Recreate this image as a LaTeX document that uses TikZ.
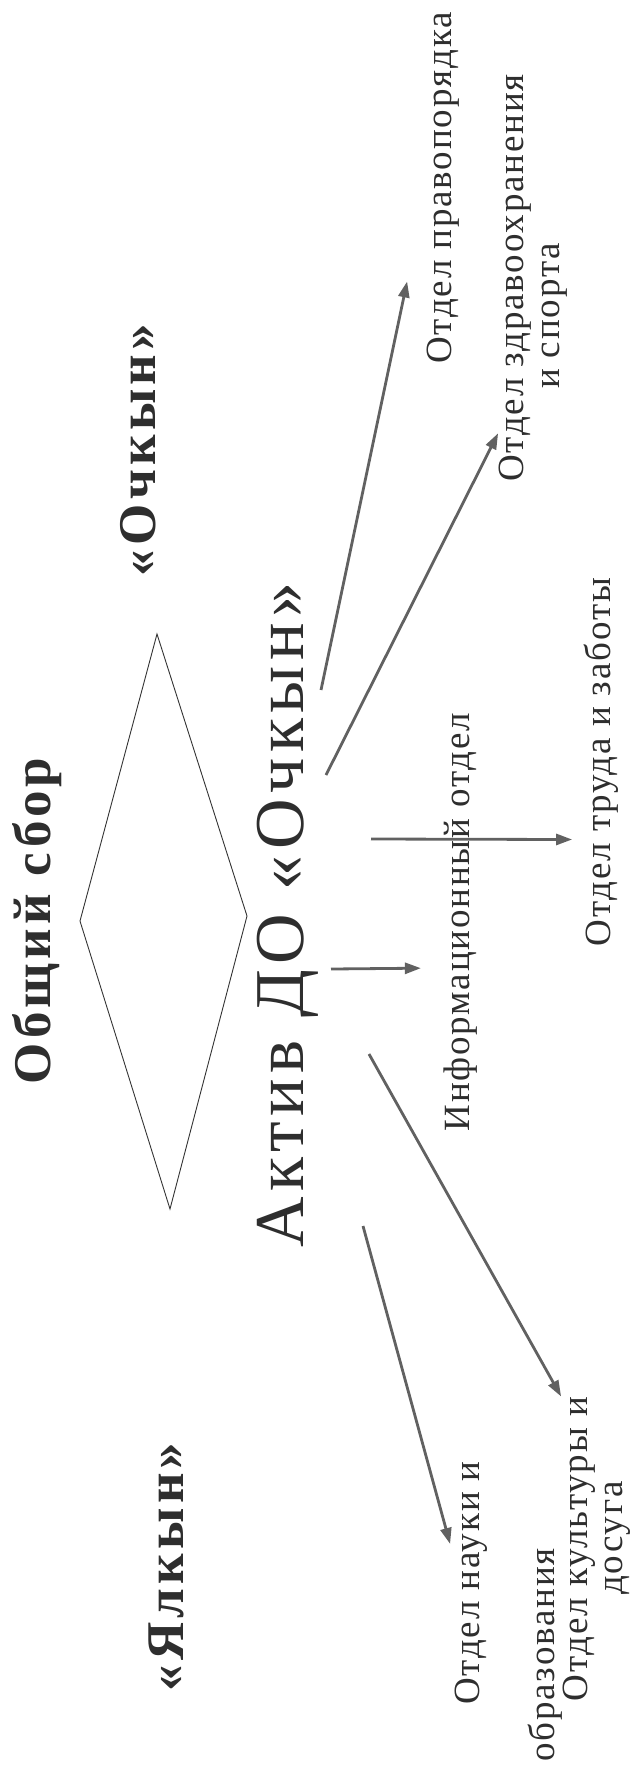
\documentclass[tikz,border=0pt]{standalone}
\usepackage{fontspec}
\setmainfont{Liberation Serif}
\newfontfamily\deptfont{Liberation Serif}[LetterSpace=5]
\newfontfamily\namefont{Liberation Serif}[LetterSpace=8]
\newfontfamily\headfont{Liberation Serif}[LetterSpace=8]
\usetikzlibrary{arrows.meta,calc}

\begin{document}
\begin{tikzpicture}[
   x=0.5pt,y=-0.5pt,
   every node/.style={inner sep=0pt,rotate=90,anchor=base,text=black!82},
   dept/.style={font=\deptfont\fontsize{18.5}{22}\selectfont},
   unitname/.style={font=\namefont\bfseries\fontsize{26.5}{30}\selectfont},
   headline/.style={font=\headfont\fontsize{35}{40}\selectfont},
   link/.style={draw=black!62,line width=1.4pt,-{Triangle[length=8pt,width=5.5pt]}},
   rhomb/.style={draw=black!80,line width=.45pt}
 ]
  \useasboundingbox (0,0) rectangle (633,1769);

  % Governing bodies and the rhombus between them.
  \node[unitname] (ochkyn) at (155,450) {«Очкын»};
  \node[unitname] (sbor) at (50,921) {Общий сбор};
  \node[unitname] (yalkyn) at (183,1567) {«Ялкын»};
  \draw[rhomb] (157,634) -- (247,916) -- (170,1209) -- (80,921) -- cycle;

  % The council itself.
  \node[headline] (aktiv) at (303,915) {Актив ДО «Очкын»};

  % Departments, second lines set as their own nodes.
  \node[dept] (pravo) at (451,188) {Отдел правопорядка};
  \node[dept] (zdrav) at (523,278) {Отдел здравоохранения};
  \node[dept] (zdravb) at (559,316) {и спорта};
  \node[dept] (info) at (469,922) {Информационный отдел};
  \node[dept] (truda) at (610,762) {Отдел труда и заботы};
  \node[dept] (nauka) at (479,1583) {Отдел науки и};
  \node[dept] (naukab) at (554,1655) {образования};
  \node[dept] (kult) at (587,1549) {Отдел культуры и};
  \node[dept] (kultb) at (622,1538) {досуга};

  % Arrows leave from just right of the council line.
  \coordinate (s1) at (321,690);
  \coordinate (s2) at (326,775);
  \coordinate (s3) at (371,839);
  \coordinate (s4) at (331,969);
  \coordinate (s5) at (369,1054);
  \coordinate (s6) at (363,1226);
  \draw[link] (s1) -- ($(pravo.north west)!.235!(pravo.north east)+(-19,0)$);
  \draw[link] (s2) -- ($(zdrav.north west)!.12!(zdrav.north east)$);
  \draw[link] (s3) -- ($(truda.north west)!.29!(truda.north east)+(-11,0)$);
  \draw[link] (s4) -- ($(info.north west)!.39!(info.north east)+(-22,0)$);
  \draw[link] (s5) -- ($(kult.north east)+(-1,0)$);
  \draw[link] (s6) -- ($(nauka.north west)!.66!(nauka.north east)+(-4,0)$);
\end{tikzpicture}
\end{document}
